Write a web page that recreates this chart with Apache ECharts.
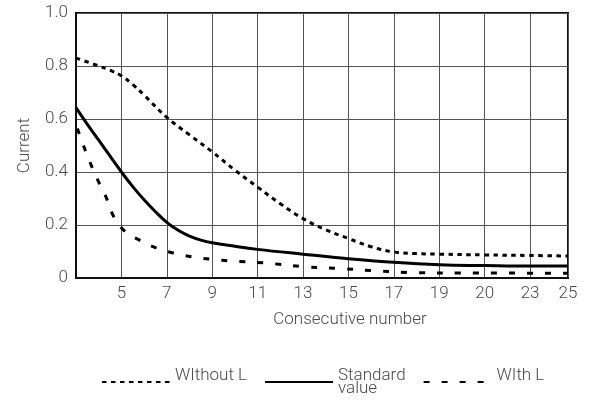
<!DOCTYPE html>
<html>
<head>
<meta charset="utf-8">
<script src="https://cdn.jsdelivr.net/npm/echarts@6/dist/echarts.min.js"></script>
<style>
html,body{margin:0;padding:0;background:#fff;}
#chart{width:596px;height:405px;}
</style>
</head>
<body>
<div id="chart"></div>
<script>
// Tick labels on the x axis (one per vertical grid line, left edge has none)
const xTickLabels = ['', '5', '7', '9', '11', '13', '15', '17', '19', '20', '23', '25'];
const X_START = 3;       // consecutive number at the left edge
const X_END = 24.67;     // consecutive number at the right edge

// Series: consecutive number / current
const withoutLX = [3, 4, 4.5, 5, 5.5, 6, 7, 8, 9, 10, 11, 12, 13, 14, 15, 16, 17, 18, 19, 21, 23, 24.67];
const withoutLY = [0.83, 0.80, 0.784, 0.763, 0.73, 0.69, 0.606, 0.54, 0.476, 0.407, 0.343, 0.28, 0.224, 0.182, 0.149, 0.118, 0.098, 0.092, 0.09, 0.087, 0.085, 0.083];

const standardX = [3, 3.5, 4, 4.5, 5, 5.5, 6, 6.5, 7, 7.5, 8, 8.5, 9, 10, 11, 13, 15, 17, 19, 21, 23, 24.67];
const standardY = [0.643, 0.58, 0.52, 0.46, 0.40, 0.345, 0.295, 0.25, 0.21, 0.18, 0.158, 0.143, 0.133, 0.12, 0.108, 0.09, 0.073, 0.059, 0.05, 0.047, 0.045, 0.045];

const withLX = [3.06, 3.35, 3.65, 3.96, 4.32, 4.63, 5.11, 5.81, 6.6, 7.4, 8.2, 9.03, 9.82, 11.28, 13.16, 14.78, 16.39, 18.0, 19.9, 24.67];
const withLY = [0.564, 0.495, 0.43, 0.369, 0.306, 0.237, 0.18, 0.142, 0.111, 0.092, 0.079, 0.07, 0.064, 0.057, 0.042, 0.035, 0.026, 0.02, 0.019, 0.018];

const yTicks = [0, 0.2, 0.4, 0.6, 0.8, 1.0];

const seriesNames = ['WIthout L', 'Standard\nvalue', 'WIth L'];

function pts(xs, ys) { return xs.map((x, i) => [x - X_START, ys[i]]); }

const FONT = 'Roboto';
const TXT = '#4a4a4a';

const chart = echarts.init(document.getElementById('chart'), null, {renderer: 'canvas'});
chart.setOption({
  animation: false,
  backgroundColor: '#fff',
  grid: {left: 76, right: 28, top: 13, bottom: 127, show: true, borderColor: '#111', borderWidth: 2, containLabel: false},
  xAxis: {
    type: 'value', min: 0, max: X_END - X_START, interval: 2,
    name: 'Consecutive number', nameLocation: 'middle', nameGap: 33,
    nameTextStyle: {fontFamily: FONT, fontWeight: 300, fontSize: 17, color: TXT, padding: [0, 0, 0, 56]},
    axisLine: {show: true, lineStyle: {color: '#111', width: 2}},
    axisTick: {show: false},
    axisLabel: {margin: 7, fontFamily: FONT, fontWeight: 300, fontSize: 17, color: TXT,
      formatter: (v, i) => xTickLabels[i] !== undefined ? xTickLabels[i] : ''},
    splitLine: {show: true, lineStyle: {color: '#555', width: 1}}
  },
  yAxis: {
    type: 'value', min: 0, max: 1, interval: 0.2,
    name: 'Current', nameLocation: 'middle', nameGap: 43, nameRotate: 90,
    nameTextStyle: {fontFamily: FONT, fontWeight: 300, fontSize: 17, color: TXT},
    axisLine: {show: true, lineStyle: {color: '#111', width: 2}},
    axisTick: {show: false},
    axisLabel: {margin: 8, fontFamily: FONT, fontWeight: 300, fontSize: 17, color: TXT,
      formatter: v => { const t = yTicks.find(y => Math.abs(y - v) < 1e-6); return t === 0 ? '0' : t.toFixed(1); }},
    splitLine: {show: true, lineStyle: {color: '#555', width: 1}}
  },
  legend: {
    left: 96, top: 362, itemWidth: 68, itemHeight: 14, itemGap: 17,
    itemStyle: {opacity: 0},
    textStyle: {fontFamily: FONT, fontWeight: 300, fontSize: 17, color: TXT, lineHeight: 13},
    formatter: name => name.indexOf('\n') >= 0 ? name : name + '\n ',
    data: seriesNames
  },
  series: [
    {name: seriesNames[0], type: 'line', data: pts(withoutLX, withoutLY), smooth: 0.4, symbol: 'none',
      lineStyle: {color: '#000', width: 3, type: [4.5, 4.5]}, itemStyle: {color: '#000'}},
    {name: seriesNames[1], type: 'line', data: pts(standardX, standardY), smooth: 0.4, symbol: 'none',
      lineStyle: {color: '#000', width: 3, type: 'solid'}, itemStyle: {color: '#000'}},
    {name: seriesNames[2], type: 'line', data: pts(withLX, withLY), smooth: 0.4, symbol: 'none',
      lineStyle: {color: '#000', width: 3, type: [6, 12]}, itemStyle: {color: '#000'}}
  ]
});
</script>
</body>
</html>
